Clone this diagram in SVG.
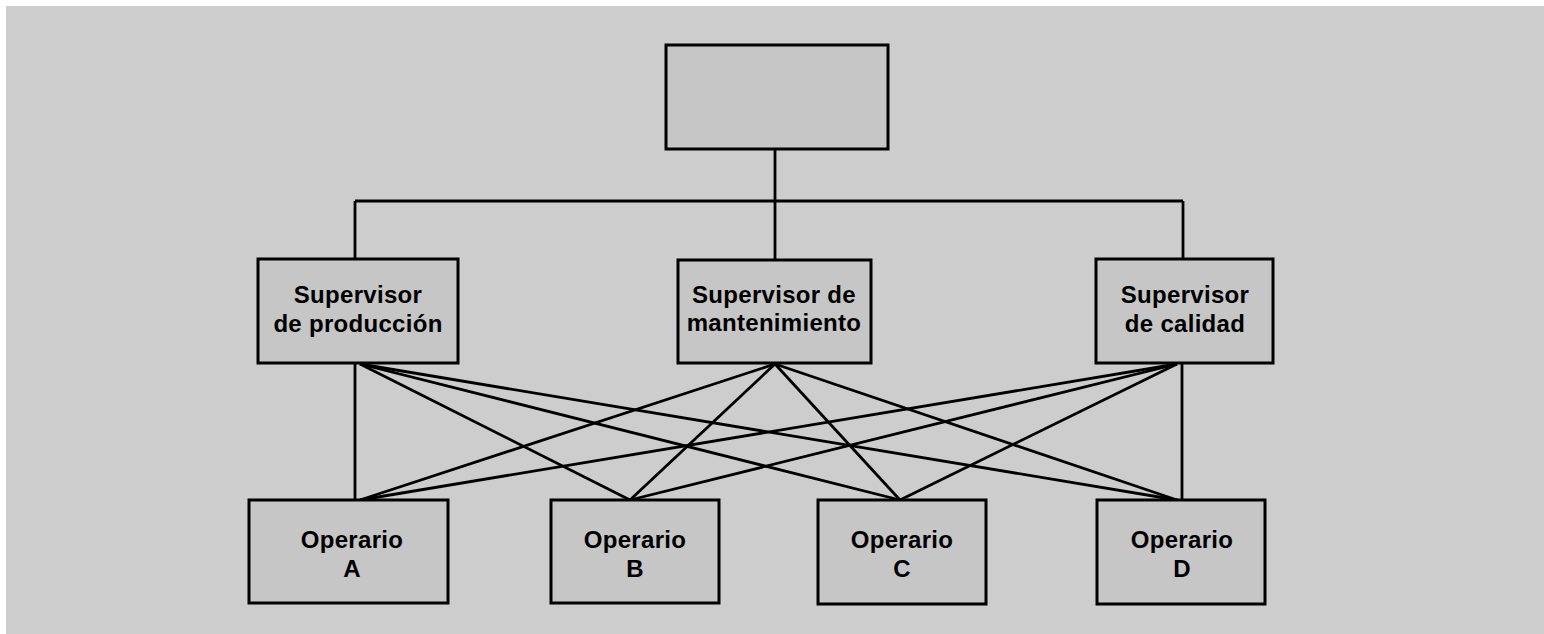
<svg xmlns="http://www.w3.org/2000/svg" width="1544" height="634" viewBox="0 0 1544 634">
<style>
.node rect{fill:#c6c6c6;stroke:#000;stroke-width:3}
.node text{font-family:"Liberation Sans",Arial,sans-serif;font-weight:bold;font-size:24px;fill:#000;text-anchor:middle;letter-spacing:0.3px}
#connectors line{stroke:#000;stroke-width:2.8;fill:none}
</style>
<rect x="0" y="0" width="1544" height="634" fill="#ffffff"/>
<rect x="6" y="6" width="1538" height="628" fill="#cdcdcd"/>
<g id="connectors">
<line x1="775" y1="149" x2="775" y2="260"/>
<line x1="355" y1="201" x2="1183" y2="201"/>
<line x1="355" y1="201" x2="355" y2="259"/>
<line x1="1183" y1="201" x2="1183" y2="259"/>
<line x1="355" y1="363" x2="355" y2="500"/>
<line x1="360" y1="364" x2="630" y2="500"/>
<line x1="360" y1="364" x2="900" y2="500"/>
<line x1="360" y1="364" x2="1177" y2="500"/>
<line x1="775" y1="364" x2="360" y2="500"/>
<line x1="775" y1="364" x2="630" y2="500"/>
<line x1="775" y1="364" x2="900" y2="500"/>
<line x1="775" y1="364" x2="1177" y2="500"/>
<line x1="1177" y1="364" x2="360" y2="500"/>
<line x1="1177" y1="364" x2="630" y2="500"/>
<line x1="1177" y1="364" x2="900" y2="500"/>
<line x1="1182" y1="363" x2="1182" y2="500"/>
</g>
<g id="top" class="node"><rect x="666" y="45" width="222" height="104"/></g>
<g id="sup-prod" class="node"><rect x="258" y="259" width="200" height="104"/><text x="358" y="303">Supervisor</text><text x="358" y="332">de producción</text></g>
<g id="sup-mant" class="node"><rect x="678" y="260" width="193" height="103"/><text x="774" y="303">Supervisor de</text><text x="774" y="331">mantenimiento</text></g>
<g id="sup-cal" class="node"><rect x="1096" y="259" width="177" height="104"/><text x="1185" y="303">Supervisor</text><text x="1185" y="332">de calidad</text></g>
<g id="op-a" class="node"><rect x="249" y="500" width="199" height="103"/><text x="352" y="548">Operario</text><text x="352" y="577">A</text></g>
<g id="op-b" class="node"><rect x="551" y="500" width="168" height="103"/><text x="635" y="548">Operario</text><text x="635" y="577">B</text></g>
<g id="op-c" class="node"><rect x="818" y="500" width="168" height="104"/><text x="902" y="548">Operario</text><text x="902" y="577">C</text></g>
<g id="op-d" class="node"><rect x="1097" y="500" width="168" height="104"/><text x="1182" y="548">Operario</text><text x="1182" y="577">D</text></g>
</svg>
